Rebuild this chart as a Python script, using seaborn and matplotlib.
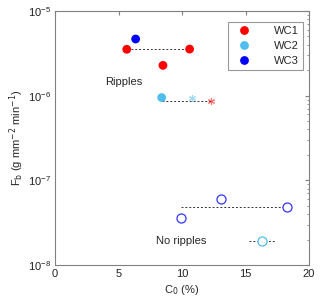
import numpy as np
import pandas as pd
import matplotlib
matplotlib.use("Agg")
import matplotlib.pyplot as plt
import seaborn as sns

# filled points (ripples)
c0_filled = [5.65, 10.6, 8.5, 8.4, 6.35]
fb_filled = [3.53e-6, 3.55e-6, 2.28e-6, 9.5e-7, 4.67e-6]
group_filled = ["WC1", "WC1", "WC1", "WC2", "WC3"]

# asterisks
c0_star = [10.8, 12.3]
fb_star = [9.5e-7, 8.65e-7]
star_colors = ["#4dbeee", "#ff0000"]

# open circles (no ripples)
c0_open = [9.9, 13.1, 18.3, 16.3]
fb_open = [3.63e-8, 5.98e-8, 4.81e-8, 1.92e-8]
open_colors = ["#3333ff", "#3333ff", "#3333ff", "#4dbeee"]

# dashed ranges: (x0, x1, y)
ranges_x0 = [5.65, 8.4, 9.9, 15.3]
ranges_x1 = [10.6, 12.3, 18.3, 17.3]
ranges_y = [3.55e-6, 8.65e-7, 4.81e-8, 1.92e-8]

palette = {"WC1": "#ff0000", "WC2": "#4dbeee", "WC3": "#0000ff"}

sns.set_style("white")
plt.rcParams['font.family'] = ['Liberation Sans', 'DejaVu Sans']

fig = plt.figure(figsize=(3.2, 3.08), dpi=100)
ax = fig.add_axes([55/320, 1 - 265/308, 254/320, 254/308])

for x0, x1, y in zip(ranges_x0, ranges_x1, ranges_y):
    ax.plot([x0, x1], [y, y], ls=(0, (2, 2)), color="#333333", lw=0.7, zorder=1)

df = pd.DataFrame({"C0": c0_filled, "Fb": fb_filled, "group": group_filled})
sns.scatterplot(data=df, x="C0", y="Fb", hue="group", palette=palette,
                hue_order=["WC1", "WC2", "WC3"], s=40, edgecolor="none",
                ax=ax, zorder=3)

for x, y, c in zip(c0_star, fb_star, star_colors):
    ax.plot(x, y, marker=(6, 2, 0), color=c, ms=5, mew=0.8, alpha=0.55, zorder=3)

for x, y, c in zip(c0_open, fb_open, open_colors):
    ax.plot(x, y, marker="o", mfc="white", mec=c, ms=6.5, mew=0.9, zorder=3)

ax.text(5.4, 1.45e-6, "Ripples", fontsize=8, ha="center", va="center")
ax.text(9.9, 1.92e-8, "No ripples", fontsize=8, ha="center", va="center")

ax.set_yscale("log")
ax.set_xlim(0, 20)
ax.set_ylim(1e-8, 1e-5)
ax.set_xticks([0, 5, 10, 15, 20])
ax.set_xlabel("C$_0$ (%)", fontsize=8, labelpad=3)
ax.set_ylabel("F$_\\mathrm{b}$ (g mm$^{-2}$ min$^{-1}$)", fontsize=8, labelpad=1)

for sp in ax.spines.values():
    sp.set_color("#808080")
    sp.set_linewidth(0.8)
ax.tick_params(which="both", direction="in", top=True, right=True,
               color="#808080", labelsize=8, pad=3, labelcolor="#222222")
ax.tick_params(which="major", length=3)
ax.tick_params(which="minor", length=1.8)

leg = ax.legend(loc="upper right", bbox_to_anchor=(0.975, 0.957), borderaxespad=0,
                fontsize=8, frameon=True, fancybox=False,
                edgecolor="#808080", handletextpad=1.6, borderpad=0.35,
                labelspacing=0.45, handlelength=2.2, markerscale=1.0)
leg.get_frame().set_linewidth(0.8)

fig.savefig("out.png", dpi=100)
